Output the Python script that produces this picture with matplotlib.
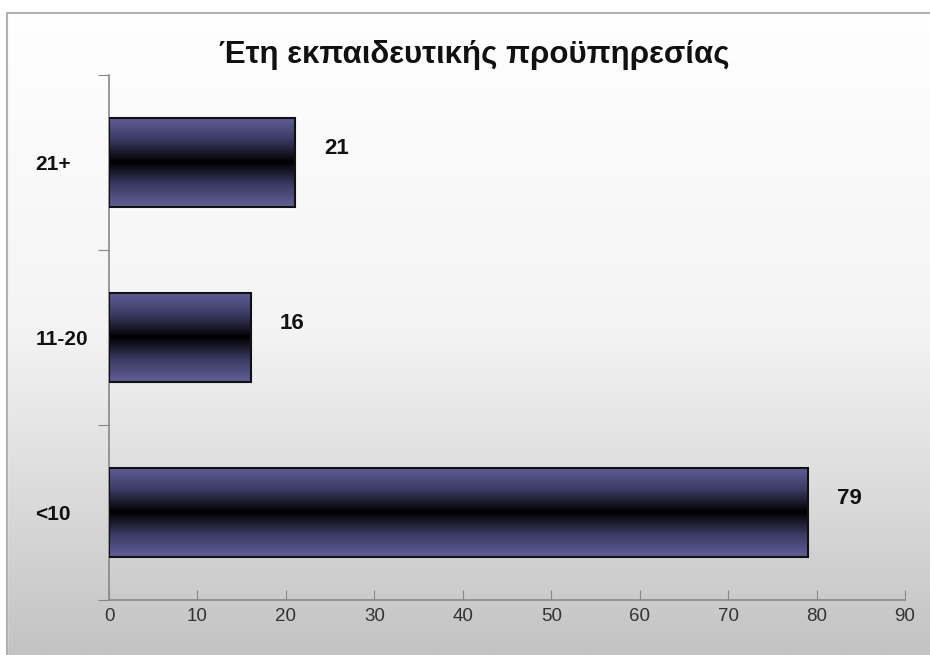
import numpy as np
import matplotlib
matplotlib.use('Agg')
import matplotlib.pyplot as plt
from matplotlib.colors import LinearSegmentedColormap
from matplotlib.patches import Rectangle

# data
categories = ['<10', '11-20', '21+']
values = [79, 16, 21]
title = 'Έτη εκπαιδευτικής προϋπηρεσίας'

plt.rcParams['font.family'] = ['Liberation Sans', 'DejaVu Sans']

fig = plt.figure(figsize=(9.3, 6.55), dpi=100)

# background gradient (white top -> light gray bottom)
bg = fig.add_axes([0, 0, 1, 1], zorder=-10)
grad = np.linspace(0, 1, 256).reshape(-1, 1)
bg_cmap = LinearSegmentedColormap.from_list('bg', ['#ffffff', '#f4f4f4', '#c3c3c3'])
bg.imshow(grad, aspect='auto', cmap=bg_cmap, extent=[0, 1, 0, 1], origin='upper')
bg.set_axis_off()
# white strip on top and the frame line
bg.add_patch(Rectangle((0, 1 - 13/655), 1, 13/655, color='white', zorder=2))
bg.add_patch(Rectangle((0, 0), 7/930, 1, color='white', zorder=2))
bg.plot([7/930, 7/930, 1], [0, 1 - 13/655, 1 - 13/655], color='#b0b0b0', lw=1.5, zorder=3)
bg.set_xlim(0, 1)
bg.set_ylim(0, 1)

ax = fig.add_axes([109/930, 55/655, 796/930, 525/655])
ax.patch.set_alpha(0)

y = np.arange(len(categories))
bars = ax.barh(y, values, height=0.51, color='none', edgecolor='#111111', linewidth=1.5, zorder=3)

bar_cmap = LinearSegmentedColormap.from_list(
    'bar', ['#60609a', '#3a3a62', '#000000', '#3a3a62', '#60609a'])
bgrad = np.linspace(0, 1, 256).reshape(-1, 1)
for b in bars:
    x0, y0 = b.get_x(), b.get_y()
    im = ax.imshow(bgrad, aspect='auto', cmap=bar_cmap,
                   extent=[x0, x0 + b.get_width(), y0, y0 + b.get_height()],
                   origin='lower', zorder=2)
    im.set_clip_path(b)

for yi, v in zip(y, values):
    ax.text(v + 3.3, yi + 0.08, str(v), fontsize=16, fontweight='bold',
            va='center', ha='left', color='#111111')

ax.set_xlim(0, 90)
ax.set_ylim(-0.5, len(categories) - 0.5)
ax.set_xticks(np.arange(0, 91, 10))
ax.set_yticks(np.arange(-0.5, len(categories), 1.0))
ax.set_yticklabels([])
ax.set_yticks(y, minor=True)
ax.set_yticklabels(categories, minor=True, fontsize=15, fontweight='bold', color='#111111',
                   ha='left')
ax.tick_params(axis='y', which='minor', length=0, pad=53)
ax.tick_params(axis='y', which='major', direction='out', length=8, color='#888888')
ax.tick_params(axis='x', direction='in', length=7, color='#888888', labelsize=13.5,
               labelcolor='#333333', pad=6)
for s in ['top', 'right']:
    ax.spines[s].set_visible(False)
for s in ['left', 'bottom']:
    ax.spines[s].set_color('#888888')
    ax.spines[s].set_linewidth(1.2)

fig.text(0.51, 1 - 55/655, title, fontsize=22.5, fontweight='bold', ha='center', va='center',
         color='#111111')

fig.savefig('out.png', dpi=100)
